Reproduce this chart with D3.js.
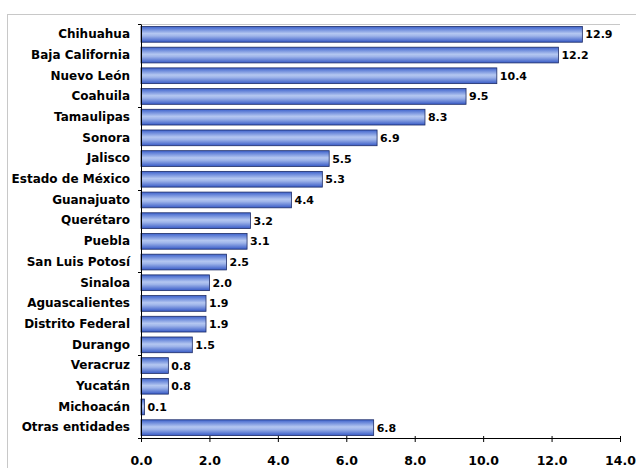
<!DOCTYPE html>
<html>
<head>
<meta charset="utf-8">
<script src="https://cdn.jsdelivr.net/npm/d3@7"></script>
<style>
  body { margin: 0; background: #fff; }
  svg { display: block; font-family: "DejaVu Sans", sans-serif; }
</style>
</head>
<body>
<div class="chart"></div>
<script>
// categories and values (top to bottom)
const states = ["Chihuahua", "Baja California", "Nuevo León", "Coahuila", "Tamaulipas", "Sonora",
  "Jalisco", "Estado de México", "Guanajuato", "Querétaro", "Puebla", "San Luis Potosí",
  "Sinaloa", "Aguascalientes", "Distrito Federal", "Durango", "Veracruz", "Yucatán",
  "Michoacán", "Otras entidades"]
const values = [12.9, 12.2, 10.4, 9.5, 8.3, 6.9, 5.5, 5.3, 4.4, 3.2, 3.1, 2.5, 2.0, 1.9, 1.9, 1.5, 0.8, 0.8, 0.1, 6.8]
const xTicks = [0, 2, 4, 6, 8, 10, 12, 14]

const W = 636, H = 468
const margin = {top: 24, right: 16, bottom: 30, left: 141},
width = W - margin.left - margin.right,
height = H - margin.top - margin.bottom;

const svgRoot = d3.select(".chart").append("svg")
  .attr("width", W).attr("height", H)

// gradient for the bars
const grad = svgRoot.append("defs").append("linearGradient")
  .attr("id", "barGrad").attr("x1", 0).attr("y1", 0).attr("x2", 0).attr("y2", 1)
grad.append("stop").attr("offset", "0%").attr("stop-color", "#3d62cc")
grad.append("stop").attr("offset", "45%").attr("stop-color", "#b4c7f1")
grad.append("stop").attr("offset", "60%").attr("stop-color", "#9fb5ea")
grad.append("stop").attr("offset", "100%").attr("stop-color", "#375ac6")

// outer chart frame
svgRoot.append("rect")
  .attr("x", 7.5).attr("y", 14.5).attr("width", W).attr("height", H)
  .attr("fill", "none").attr("stroke", "#c8c8c8")

const svg = svgRoot.append("g")
  .attr("transform", `translate(${margin.left},${margin.top})`)

const x = d3.scaleLinear().domain([0, 14]).range([0, width])
const y = d3.scaleBand().domain(states).range([0, height]).paddingInner(0.24).paddingOuter(0.12)

// plot area top line
svg.append("line")
  .attr("x1", 0).attr("x2", width).attr("y1", 0.5).attr("y2", 0.5)
  .attr("stroke", "#c8c8c8")

// bars
svg.selectAll(".bar")
  .data(values)
  .join("rect")
  .attr("class", "bar")
  .attr("x", 0)
  .attr("y", (d, i) => y(states[i]))
  .attr("width", d => x(d))
  .attr("height", y.bandwidth())
  .attr("fill", "url(#barGrad)")
  .attr("stroke", "#1e2d66")
  .attr("stroke-width", 0.8)

// value labels
svg.selectAll(".val")
  .data(values)
  .join("text")
  .attr("class", "val")
  .attr("x", d => x(d) + 3)
  .attr("y", (d, i) => y(states[i]) + y.bandwidth() / 2)
  .attr("dy", "0.36em")
  .attr("font-size", "11px")
  .attr("font-weight", "bold")
  .attr("fill", "#000")
  .text(d => d.toFixed(1))

// y axis
const yAxis = svg.append("g")
  .call(d3.axisLeft(y).tickSize(0).tickPadding(11))
yAxis.select(".domain").attr("stroke", "#000")
yAxis.selectAll("text").attr("font-size", "12px").attr("font-weight", "bold").attr("fill", "#000")
  .attr("font-family", "'DejaVu Sans', sans-serif")
// small category ticks
svg.append("g").selectAll("line")
  .data(d3.range(0, states.length + 1, 4))
  .join("line")
  .attr("x1", -3).attr("x2", 0)
  .attr("y1", i => Math.round(i * height / states.length) + 0.5)
  .attr("y2", i => Math.round(i * height / states.length) + 0.5)
  .attr("stroke", "#000")

// x axis
const xAxis = svg.append("g")
  .attr("transform", `translate(0,${height})`)
  .call(d3.axisBottom(x).tickValues(xTicks).tickFormat(d3.format(".1f")).tickSizeInner(4).tickSizeOuter(0).tickPadding(14))
xAxis.select(".domain").attr("stroke", "#000")
xAxis.selectAll(".tick line").attr("stroke", "#000").attr("y1", -2)
xAxis.selectAll("text").attr("font-size", "12.5px").attr("font-weight", "bold").attr("fill", "#000")
  .attr("font-family", "'DejaVu Sans', sans-serif")
</script>
</body>
</html>
